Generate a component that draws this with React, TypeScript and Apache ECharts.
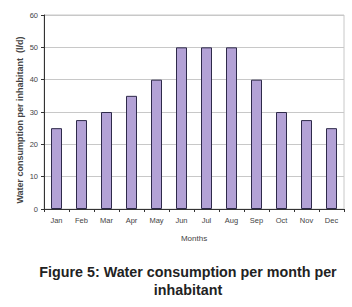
import React, { useEffect, useRef } from "react";
import * as echarts from "echarts";

const months = ["Jan", "Feb", "Mar", "Apr", "May", "Jun", "Jul", "Aug", "Sep", "Oct", "Nov", "Dec"];
const consumption = [25, 27.5, 30, 35, 40, 50, 50, 50, 40, 30, 27.5, 25];
const yTicks = { min: 0, max: 60, interval: 10 };
const yAxisTitle = "Water consumption per inhabitant  (l/d)";
const xAxisTitle = "Months";
const captionLines = ["Figure 5: Water consumption per month per", "inhabitant"];

export default function App() {
  const ref = useRef<HTMLDivElement>(null);
  useEffect(() => {
    document.body.style.margin = "0";
    const chart = echarts.init(ref.current!, null, { renderer: "svg" });
    const font = "Liberation Sans, Arial, sans-serif";
    chart.setOption({
      animation: false,
      backgroundColor: "#ffffff",
      graphic: [
        {
          type: "text",
          x: 20,
          y: 120,
          rotation: Math.PI / 2,
          style: {
            text: yAxisTitle,
            align: "center",
            verticalAlign: "middle",
            fontFamily: font,
            fontSize: 9,
            fontWeight: "bold",
            fill: "#444",
          },
        },
        {
          type: "text",
          x: 188,
          y: 272,
          style: {
            text: captionLines[0],
            align: "center",
            verticalAlign: "middle",
            fontFamily: font,
            fontSize: 14.3,
            fontWeight: "bold",
            fill: "#222",
          },
        },
        {
          type: "text",
          x: 188,
          y: 290,
          style: {
            text: captionLines[1],
            align: "center",
            verticalAlign: "middle",
            fontFamily: font,
            fontSize: 14.3,
            fontWeight: "bold",
            fill: "#222",
          },
        },
      ],
      grid: { left: 44, right: 8, top: 15, bottom: 98, show: true, borderColor: "#c8c8c8", borderWidth: 1 },
      xAxis: {
        type: "category",
        data: months,
        name: xAxisTitle,
        nameLocation: "middle",
        nameGap: 25,
        nameTextStyle: { fontFamily: font, fontSize: 8, color: "#444" },
        axisLine: { lineStyle: { color: "#333", width: 1 } },
        axisTick: { show: true, length: 3, lineStyle: { color: "#333" } },
        axisLabel: { fontFamily: font, fontSize: 7.5, color: "#444", margin: 7 },
      },
      yAxis: {
        type: "value",
        min: yTicks.min,
        max: yTicks.max,
        interval: yTicks.interval,
        axisLine: { show: true, lineStyle: { color: "#333", width: 1 } },
        axisTick: { show: true, length: 3, lineStyle: { color: "#333" } },
        axisLabel: { fontFamily: font, fontSize: 7.5, color: "#444", margin: 6 },
        splitLine: { lineStyle: { color: "#c8c8c8", width: 1 } },
      },
      series: [
        {
          type: "bar",
          data: consumption,
          barWidth: "44%",
          itemStyle: { color: "#b3a2d6", borderColor: "#2e2a4a", borderWidth: 1 },
        },
      ],
    });
    return () => chart.dispose();
  }, []);
  return <div ref={ref} style={{ width: 352, height: 307 }} />;
}
